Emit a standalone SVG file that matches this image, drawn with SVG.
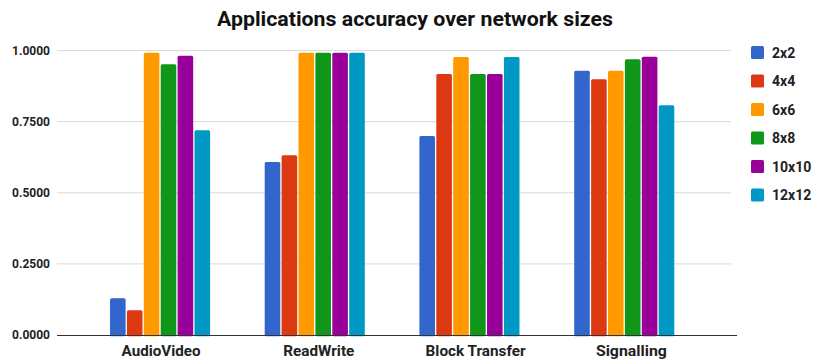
<svg xmlns="http://www.w3.org/2000/svg" width="814" height="364" viewBox="0 0 814 364">
<style>
.t{font-family:Roboto,"Liberation Sans",sans-serif;font-weight:bold;fill:#222}
.grid{stroke:#d9d9d9;stroke-width:1}
.c1{fill:#3366cc}.c2{fill:#dc3912}.c3{fill:#ff9900}.c4{fill:#109618}.c5{fill:#990099}.c6{fill:#0099c6}
</style>
<rect width="814" height="364" fill="#fff"/>
<text class="t" x="217" y="25.5" font-size="21" textLength="396" lengthAdjust="spacingAndGlyphs" style="fill:#111">Applications accuracy over network sizes</text>
<g id="grid">
<line class="grid" x1="57" y1="50.6" x2="731" y2="50.6"/>
<line class="grid" x1="57" y1="121.7" x2="731" y2="121.7"/>
<line class="grid" x1="57" y1="192.8" x2="731" y2="192.8"/>
<line class="grid" x1="57" y1="263.9" x2="731" y2="263.9"/>
</g>
<g id="yaxis" class="t" font-size="12" text-anchor="end">
<text x="50" y="55">1.0000</text>
<text x="50" y="126">0.7500</text>
<text x="50" y="197">0.5000</text>
<text x="50" y="268">0.2500</text>
<text x="50" y="339">0.0000</text>
</g>
<g id="AudioVideo">
<rect class="c1" x="110" y="298.3" width="15.6" height="38" rx="1.5"/>
<rect class="c2" x="126.9" y="310.3" width="15.6" height="26" rx="1.5"/>
<rect class="c3" x="143.8" y="52.7" width="15.6" height="283.6" rx="1.5"/>
<rect class="c4" x="160.7" y="64.3" width="15.6" height="272" rx="1.5"/>
<rect class="c5" x="177.6" y="55.7" width="15.6" height="280.6" rx="1.5"/>
<rect class="c6" x="194.5" y="130.3" width="15.6" height="206" rx="1.5"/>
</g>
<g id="ReadWrite">
<rect class="c1" x="264.7" y="162" width="15.6" height="174.3" rx="1.5"/>
<rect class="c2" x="281.6" y="155.3" width="15.6" height="181" rx="1.5"/>
<rect class="c3" x="298.5" y="52.7" width="15.6" height="283.6" rx="1.5"/>
<rect class="c4" x="315.4" y="52.7" width="15.6" height="283.6" rx="1.5"/>
<rect class="c5" x="332.3" y="52.7" width="15.6" height="283.6" rx="1.5"/>
<rect class="c6" x="349.2" y="52.7" width="15.6" height="283.6" rx="1.5"/>
</g>
<g id="BlockTransfer">
<rect class="c1" x="419.4" y="136" width="15.6" height="200.3" rx="1.5"/>
<rect class="c2" x="436.3" y="74" width="15.6" height="262.3" rx="1.5"/>
<rect class="c3" x="453.2" y="57" width="15.6" height="279.3" rx="1.5"/>
<rect class="c4" x="470.1" y="74" width="15.6" height="262.3" rx="1.5"/>
<rect class="c5" x="487" y="74" width="15.6" height="262.3" rx="1.5"/>
<rect class="c6" x="503.9" y="57" width="15.6" height="279.3" rx="1.5"/>
</g>
<g id="Signalling">
<rect class="c1" x="574.2" y="70.7" width="15.6" height="265.6" rx="1.5"/>
<rect class="c2" x="591.1" y="79.3" width="15.6" height="257" rx="1.5"/>
<rect class="c3" x="608" y="70.7" width="15.6" height="265.6" rx="1.5"/>
<rect class="c4" x="624.9" y="59.3" width="15.6" height="277" rx="1.5"/>
<rect class="c5" x="641.8" y="56.7" width="15.6" height="279.6" rx="1.5"/>
<rect class="c6" x="658.7" y="105.3" width="15.6" height="231" rx="1.5"/>
</g>
<g id="axis">
<line x1="57" y1="335.5" x2="737" y2="335.5" stroke="#333" stroke-width="1"/>
</g>
<g id="xlabels" class="t" font-size="14" lengthAdjust="spacingAndGlyphs">
<text x="121.6" y="356" textLength="79" lengthAdjust="spacingAndGlyphs">AudioVideo</text>
<text x="283.3" y="356" textLength="71" lengthAdjust="spacingAndGlyphs">ReadWrite</text>
<text x="425.6" y="356" textLength="100" lengthAdjust="spacingAndGlyphs">Block Transfer</text>
<text x="595.9" y="356" textLength="71" lengthAdjust="spacingAndGlyphs">Signalling</text>
</g>
<g id="legend" class="t" font-size="14">
<rect class="c1" x="751" y="46" width="13" height="13" rx="1.5"/><text x="772" y="57.5">2x2</text>
<rect class="c2" x="751" y="74.5" width="13" height="13" rx="1.5"/><text x="772" y="86">4x4</text>
<rect class="c3" x="751" y="103" width="13" height="13" rx="1.5"/><text x="772" y="114.5">6x6</text>
<rect class="c4" x="751" y="131.5" width="13" height="13" rx="1.5"/><text x="772" y="143">8x8</text>
<rect class="c5" x="751" y="160" width="13" height="13" rx="1.5"/><text x="772" y="171.5">10x10</text>
<rect class="c6" x="751" y="188.5" width="13" height="13" rx="1.5"/><text x="772" y="200">12x12</text>
</g>
</svg>
